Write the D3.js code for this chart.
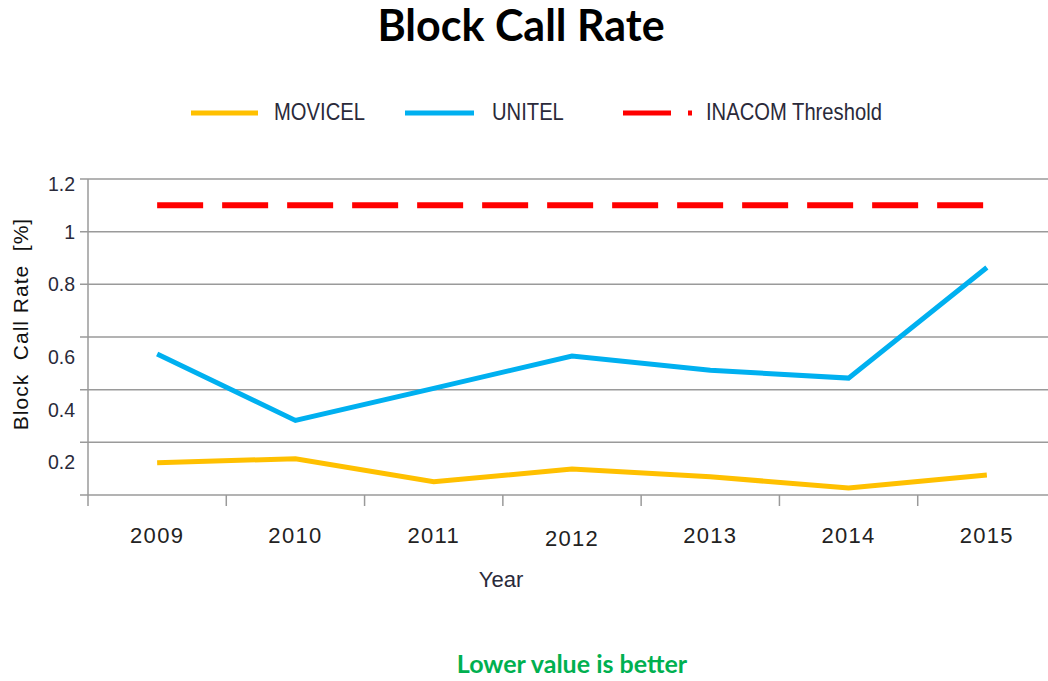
<!DOCTYPE html>
<head>
<meta charset="utf-8">
<script src="https://d3js.org/d3.v7.min.js"></script>
<style>
  body { margin: 0; background: #fff; }
</style>
</head>
<body>
<svg width="1048" height="681" font-family="'Liberation Sans', Arial, sans-serif"></svg>
<script>

// values
let years = ["2009", "2010", "2011", "2012", "2013", "2014", "2015"];
let movicel = [0.122, 0.138, 0.05, 0.099, 0.069, 0.027, 0.076];
let unitel = [0.535, 0.283, 0.405, 0.528, 0.474, 0.444, 0.864];
let threshold = 1.1;
let yTicks = [0.2, 0.4, 0.6, 0.8, 1, 1.2];
let yTickLabels = ["0.2", "0.4", "0.6", "0.8", "1", "1.2"];
let seriesNames = ["MOVICEL", "UNITEL", "INACOM Threshold"];

let svg = d3.select("svg");

let x = d3.scaleBand()
    .domain(years)
    .range([88, 1056]);

let y = d3.scaleLinear()
    .domain([0, 1.2])
    .range([495, 179]);

// title
svg.append("text")
    .attr("x", 521)
    .attr("y", 41)
    .attr("text-anchor", "middle")
    .attr("font-family", "Lato, 'Open Sans', sans-serif")
    .attr("font-weight", "bold")
    .attr("font-size", 43)
    .text("Block Call Rate");

// gridlines
svg.append("g").selectAll("line")
  .data(yTicks)
  .enter().append("line")
    .attr("x1", 80)
    .attr("x2", 1048)
    .attr("y1", d => y(d))
    .attr("y2", d => y(d))
    .attr("stroke", "#9a9a9a")
    .attr("stroke-width", 1.5);

// y axis
svg.append("line")
    .attr("x1", 88).attr("x2", 88)
    .attr("y1", y(1.2)).attr("y2", 506)
    .attr("stroke", "#9a9a9a").attr("stroke-width", 1.5);

// x axis
svg.append("line")
    .attr("x1", 80).attr("x2", 1048)
    .attr("y1", y(0)).attr("y2", y(0))
    .attr("stroke", "#9a9a9a").attr("stroke-width", 1.5);

svg.append("g").selectAll("line")
  .data(years.slice(1))
  .enter().append("line")
    .attr("x1", d => x(d)).attr("x2", d => x(d))
    .attr("y1", y(0)).attr("y2", y(0) + 11)
    .attr("stroke", "#9a9a9a").attr("stroke-width", 1.5);

// y tick labels (lower ones sit below their gridline, as in the original)
svg.append("g").selectAll("text")
  .data(yTicks)
  .enter().append("text")
    .attr("x", 75)
    .attr("y", d => y(d) + (d < 0.7 ? 27 : (d > 1.1 ? 12 : 7)))
    .attr("text-anchor", "end")
    .attr("font-size", 19.5)
    .attr("fill", "#2a2a3a")
    .text((d, i) => yTickLabels[i]);

// x tick labels
svg.append("g").selectAll("text")
  .data(years)
  .enter().append("text")
    .attr("x", d => x(d) + x.bandwidth() / 2)
    .attr("y", d => d === "2012" ? 546 : 543)
    .attr("text-anchor", "middle")
    .attr("font-size", 22)
    .attr("letter-spacing", 1.3)
    .attr("fill", "#222")
    .text(d => d);

// axis titles
svg.append("text")
    .attr("x", 501)
    .attr("y", 587)
    .attr("text-anchor", "middle")
    .attr("font-size", 22)
    .attr("fill", "#2a2a3a")
    .text("Year");

svg.append("text")
    .attr("transform", "translate(28,324)rotate(-90)")
    .attr("text-anchor", "middle")
    .attr("font-size", 21)
    .attr("letter-spacing", 1)
    .attr("fill", "#111")
    .attr("xml:space", "preserve")
    .text("Block  Call Rate  [%]");

// series
let line = d3.line()
    .x((d, i) => x(years[i]) + x.bandwidth() / 2)
    .y(d => y(d));

svg.append("path")
    .attr("d", line(movicel))
    .attr("fill", "none")
    .attr("stroke", "#ffc000")
    .attr("stroke-width", 5);

svg.append("path")
    .attr("d", line(unitel))
    .attr("fill", "none")
    .attr("stroke", "#00b0f0")
    .attr("stroke-width", 5);

svg.append("path")
    .attr("d", line(years.map(() => threshold)))
    .attr("fill", "none")
    .attr("stroke", "#ff0000")
    .attr("stroke-width", 6)
    .attr("stroke-dasharray", "46,19");

// legend
let legendColors = ["#ffc000", "#00b0f0", "#ff0000"];
let legendX = [191, 405, 623];
let legendW = [67, 69, 70];
let textX = [274, 492, 706];

let legend = svg.append("g").selectAll("g")
  .data(seriesNames)
  .enter().append("g");

legend.append("line")
    .attr("x1", (d, i) => legendX[i])
    .attr("x2", (d, i) => legendX[i] + legendW[i])
    .attr("y1", 113).attr("y2", 113)
    .attr("stroke", (d, i) => legendColors[i])
    .attr("stroke-width", 5)
    .attr("stroke-dasharray", (d, i) => i === 2 ? "48,17,4,100" : null);

legend.append("text")
    .attr("transform", (d, i) => "translate(" + textX[i] + ",120)scale(0.86,1)")
    .attr("font-size", 23.5)
    .attr("fill", "#2a2a3a")
    .text(d => d);

// footnote
svg.append("text")
    .attr("x", 572)
    .attr("y", 673)
    .attr("text-anchor", "middle")
    .attr("font-family", "Lato, 'Open Sans', sans-serif")
    .attr("font-weight", "bold")
    .attr("font-size", 25)
    .attr("fill", "#00b050")
    .text("Lower value is better");

</script>
</body>
